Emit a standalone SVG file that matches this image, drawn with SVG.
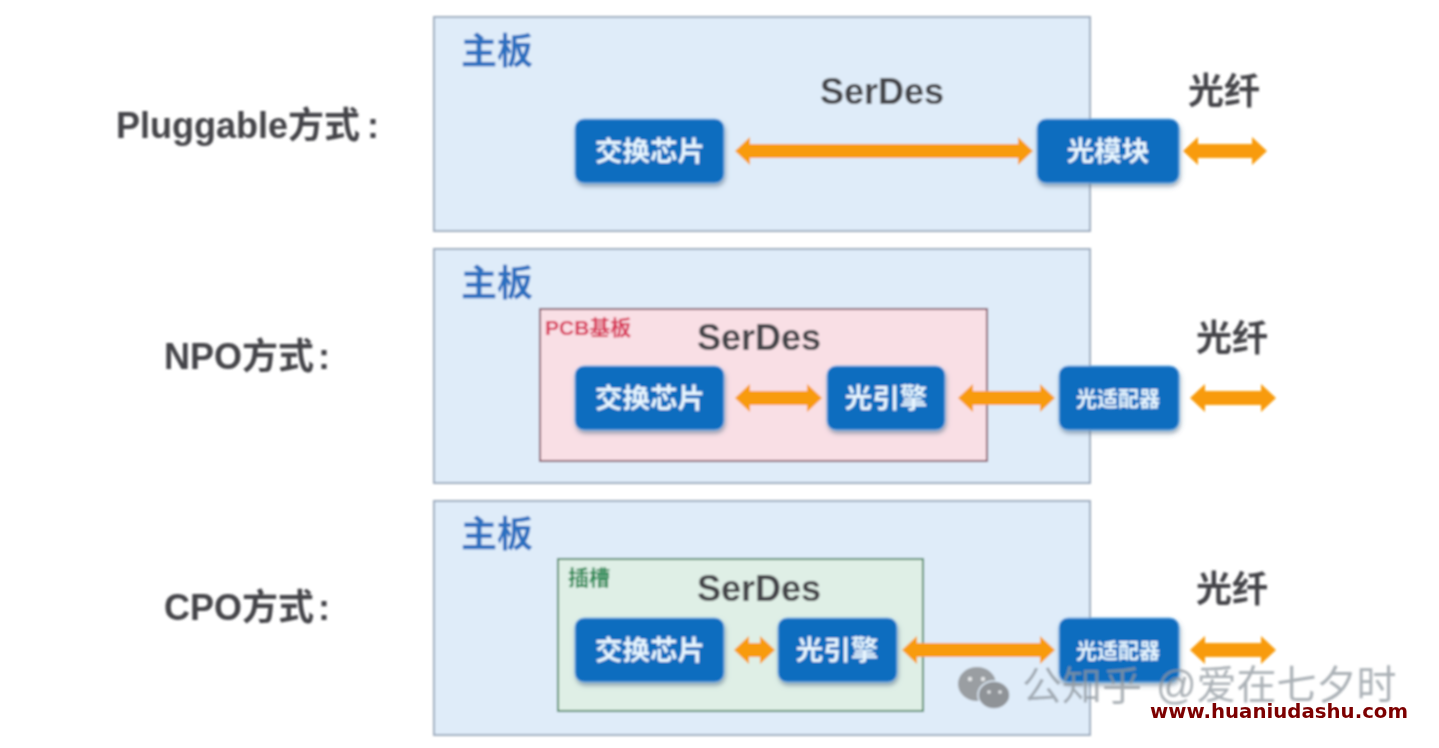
<svg xmlns="http://www.w3.org/2000/svg" width="1439" height="748" viewBox="0 0 1439 748">
<style>
text{font-family:"Liberation Sans","Noto Sans CJK SC",sans-serif;font-weight:bold}
.board{fill:#dfecf9;stroke:#9fadbf;stroke-width:2}
.chip{fill:#0a6dbf;stroke:#6fb3ea;stroke-width:1;filter:url(#sh)}
.t{fill:#e8f6ff;text-anchor:middle}
.big{font-size:27.5px}
.small{font-size:21px}
.zb{fill:#2a6fc0;font-size:36px}
.dark{fill:#444448;font-size:36px}
.arrow{fill:#f89b0c}
.wm{fill:#8f979e;fill-opacity:.75;font-size:40px;font-weight:normal}
</style>
<defs>
<filter id="sh" x="-10%" y="-10%" width="120%" height="125%"><feDropShadow dx="1" dy="3" stdDeviation="2" flood-color="#56708c" flood-opacity=".6"/></filter>
<filter id="soft"><feGaussianBlur stdDeviation="0.8"/></filter>
</defs>
<rect width="1439" height="748" fill="#fff"/>
<g filter="url(#soft)">
<g id="labels">
<text x="116" y="138" class="dark">Pluggable方式<tspan dx="7">:</tspan></text>
<text x="164" y="369" class="dark">NPO方式<tspan dx="4">:</tspan></text>
<text x="164" y="620" class="dark">CPO方式<tspan dx="4">:</tspan></text>
</g>
<g id="board1"><rect class="board" x="434" y="17" width="656" height="214"/><text x="461" y="64" class="zb">主板</text><text x="820" y="104" class="dark">SerDes</text></g>
<g id="board2"><rect class="board" x="434" y="249" width="656" height="234"/><text x="461" y="296" class="zb">主板</text></g>
<g id="board3"><rect class="board" x="434" y="501" width="656" height="234"/><text x="461" y="547" class="zb">主板</text></g>
<g id="pcb"><rect x="540" y="309" width="447" height="152" fill="#f9dfe5" stroke="#8b5a6c" stroke-width="2"/><text x="545" y="335" font-size="21" fill="#d8395a">PCB基板</text><text x="697" y="350" class="dark">SerDes</text></g>
<g id="slot"><rect x="558" y="559" width="365" height="152" fill="#dfefe6" stroke="#4f8a68" stroke-width="2"/><text x="568" y="585" font-size="21" fill="#2e8b57">插槽</text><text x="697" y="601" class="dark">SerDes</text></g>
<g id="fiber-labels">
<text x="1188" y="104" class="dark">光纤</text>
<text x="1196" y="351" class="dark">光纤</text>
<text x="1196" y="602" class="dark">光纤</text>
</g>
<g id="connectors" class="arrow">
<polygon points="735,151 750,137 750,144 1018,144 1018,137 1033,151 1018,165 1018,158 750,158 750,165"/>
<polygon points="1183,151 1198,137 1198,144 1252,144 1252,137 1267,151 1252,165 1252,158 1198,158 1198,165"/>
<polygon points="735,398 750,384 750,391 807,391 807,384 822,398 807,412 807,405 750,405 750,412"/>
<polygon points="958,398 973,384 973,391 1040,391 1040,384 1055,398 1040,412 1040,405 973,405 973,412"/>
<polygon points="1190,398 1205,384 1205,391 1261,391 1261,384 1276,398 1261,412 1261,405 1205,405 1205,412"/>
<polygon points="734,650 749,636 749,643 760,643 760,636 775,650 760,664 760,657 749,657 749,664"/>
<polygon points="902,650 917,636 917,643 1040,643 1040,636 1055,650 1040,664 1040,657 917,657 917,664"/>
<polygon points="1190,650 1205,636 1205,643 1261,643 1261,636 1276,650 1261,664 1261,657 1205,657 1205,664"/>
</g>
<g id="switch1"><rect class="chip" x="575" y="119" width="149" height="64" rx="9"/><text x="650" y="161" class="t big">交换芯片</text></g>
<g id="module"><rect class="chip" x="1037" y="119" width="142" height="64" rx="9"/><text x="1108" y="161" class="t big">光模块</text></g>
<g id="switch2"><rect class="chip" x="575" y="366" width="149" height="64" rx="9"/><text x="650" y="408" class="t big">交换芯片</text></g>
<g id="engine2"><rect class="chip" x="827" y="366" width="118" height="64" rx="9"/><text x="886" y="408" class="t big">光引擎</text></g>
<g id="adapter2"><rect class="chip" x="1059" y="366" width="120" height="64" rx="9"/><text x="1118" y="406" class="t small">光适配器</text></g>
<g id="switch3"><rect class="chip" x="575" y="618" width="149" height="64" rx="9"/><text x="650" y="660" class="t big">交换芯片</text></g>
<g id="engine3"><rect class="chip" x="778" y="618" width="119" height="64" rx="9"/><text x="837" y="660" class="t big">光引擎</text></g>
<g id="adapter3"><rect class="chip" x="1059" y="618" width="120" height="64" rx="9"/><text x="1118" y="658" class="t small">光适配器</text></g>
<g id="watermark">
<ellipse cx="977" cy="684" rx="19" ry="17" fill="#9a9ea2"/><ellipse cx="994" cy="695" rx="16" ry="14" fill="#8f9397" stroke="#dfecf9" stroke-width="1.5"/>
<circle cx="970" cy="679" r="2.2" fill="#e6e8ea"/><circle cx="983" cy="679" r="2.2" fill="#e6e8ea"/><circle cx="989" cy="692" r="1.8" fill="#e6e8ea"/><circle cx="1000" cy="692" r="1.8" fill="#e6e8ea"/>
<text x="1022" y="700" class="wm">公知乎</text>
<text x="1156" y="699" class="wm">@爱在七夕时</text>
</g>
</g>
<text id="site" x="1150" y="718" font-size="19" style="font-family:'DejaVu Sans',sans-serif" fill="#7d0000" textLength="258" lengthAdjust="spacingAndGlyphs">www.huaniudashu.com</text>
</svg>
